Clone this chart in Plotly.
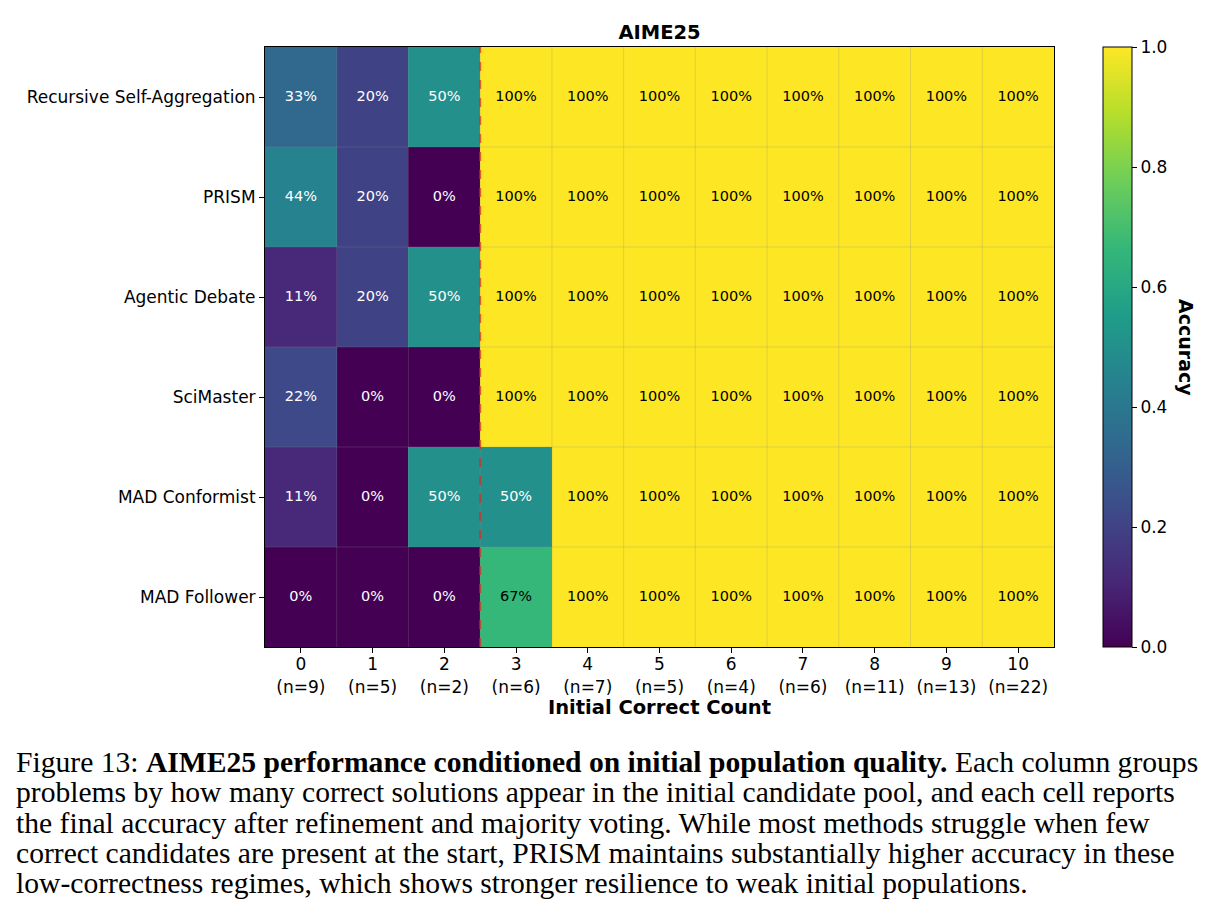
import plotly.graph_objects as go

methods = ["Recursive Self-Aggregation", "PRISM", "Agentic Debate", "SciMaster",
           "MAD Conformist", "MAD Follower"]
counts = [0, 1, 2, 3, 4, 5, 6, 7, 8, 9, 10]
n_problems = [9, 5, 2, 6, 7, 5, 4, 6, 11, 13, 22]

rsa = [0.333, 0.20, 0.50, 1, 1, 1, 1, 1, 1, 1, 1]
prism = [0.444, 0.20, 0.00, 1, 1, 1, 1, 1, 1, 1, 1]
debate = [0.111, 0.20, 0.50, 1, 1, 1, 1, 1, 1, 1, 1]
scimaster = [0.222, 0.00, 0.00, 1, 1, 1, 1, 1, 1, 1, 1]
conformist = [0.111, 0.00, 0.50, 0.50, 1, 1, 1, 1, 1, 1, 1]
follower = [0.00, 0.00, 0.00, 0.667, 1, 1, 1, 1, 1, 1, 1]
z = [rsa, prism, debate, scimaster, conformist, follower]

threshold_col = 2.5  # boundary marked by dashed line

caption_lines = [
    "Figure 13: <b>AIME25 performance conditioned on initial population quality.</b> Each column groups",
    "problems by how many correct solutions appear in the initial candidate pool, and each cell reports",
    "the final accuracy after refinement and majority voting. While most methods struggle when few",
    "correct candidates are present at the start, PRISM maintains substantially higher accuracy in these",
    "low-correctness regimes, which shows stronger resilience to weak initial populations.",
]

FONT = "DejaVu Sans"
W, H = 1220, 923
L, R, T, B = 265, 166, 47, 276
pw, ph = W - L - R, H - T - B

fig = go.Figure()
fig.add_trace(go.Heatmap(
    z=z, x=counts, y=list(range(len(methods))),
    zmin=0, zmax=1, colorscale="Viridis",
    colorbar=dict(
        x=(1103 - L) / pw, xanchor="left", y=0.5, yanchor="middle",
        len=ph, lenmode="pixels", thickness=29, thicknessmode="pixels",
        xpad=0, ypad=0,
        outlinecolor="black", outlinewidth=1,
        ticks="outside", ticklen=5, tickcolor="black",
        tickvals=[0, 0.2, 0.4, 0.6, 0.8, 1.0], tickformat=".1f",
        tickfont=dict(family=FONT, size=17, color="black"),
    ),
    hoverinfo="skip",
))

tx, ty, tt, tc = [], [], [], []
for i, row in enumerate(z):
    for j, v in enumerate(row):
        tx.append(counts[j]); ty.append(i)
        tt.append(f"{round(v*100):.0f}%")
        tc.append("white" if v < 0.6 else "black")
fig.add_trace(go.Scatter(x=tx, y=ty, mode="text", text=tt,
                         textfont=dict(family=FONT, size=14.5, color=tc),
                         hoverinfo="skip", showlegend=False))

shapes = []
for j in range(len(counts) - 1):
    shapes.append(dict(type="line", xref="x", yref="paper", x0=j + 0.5, x1=j + 0.5,
                       y0=0, y1=1, line=dict(color="rgba(140,140,140,0.25)", width=1), layer="above"))
for i in range(len(methods) - 1):
    shapes.append(dict(type="line", xref="paper", yref="y", x0=0, x1=1, y0=i + 0.5, y1=i + 0.5,
                       line=dict(color="rgba(140,140,140,0.25)", width=1), layer="above"))
shapes.append(dict(type="line", xref="x", yref="paper", x0=threshold_col, x1=threshold_col,
                   y0=0, y1=1, line=dict(color="rgba(220,40,30,0.7)", width=2, dash="dash"),
                   layer="above"))

annotations = [dict(
    text="<b>Accuracy</b>", xref="paper", yref="paper", x=(1186 - L) / pw, y=0.5,
    textangle=90, showarrow=False, font=dict(family=FONT, size=19, color="black"),
    xanchor="center", yanchor="middle")]
for k, line in enumerate(caption_lines):
    ypix = 762 + k * 30.3
    annotations.append(dict(
        text=line, xref="paper", yref="paper", x=(14 - L) / pw, y=(H - B - ypix) / ph,
        xanchor="left", yanchor="middle", showarrow=False,
        font=dict(family="Liberation Serif", size=29.6, color="black")))

fig.update_layout(
    width=W, height=H, margin=dict(l=L, r=R, t=T, b=B),
    paper_bgcolor="white", plot_bgcolor="white",
    title=dict(text="<b>AIME25</b>", x=0.5, xref="paper", y=1 - 32 / H, yref="container",
               xanchor="center", yanchor="middle",
               font=dict(family=FONT, size=19.5, color="black")),
    xaxis=dict(tickvals=counts,
               ticktext=[f"{c}<br>(n={n})" for c, n in zip(counts, n_problems)],
               range=[-0.5, 10.5], showgrid=False, zeroline=False,
               showline=True, linecolor="black", linewidth=1, mirror=True,
               ticks="outside", ticklen=5, tickcolor="black", ticklabelstandoff=-3,
               tickfont=dict(family=FONT, size=17, color="black"),
               title=dict(text="<b>Initial Correct Count</b>", standoff=0,
                          font=dict(family=FONT, size=19.5, color="black"))),
    yaxis=dict(tickvals=list(range(len(methods))), ticktext=methods,
               range=[5.5, -0.5], showgrid=False, zeroline=False,
               showline=True, linecolor="black", linewidth=1, mirror=True,
               ticks="outside", ticklen=5, tickcolor="black",
               tickfont=dict(family=FONT, size=17, color="black")),
    shapes=shapes, annotations=annotations, showlegend=False,
)

fig.write_html("out.html")
